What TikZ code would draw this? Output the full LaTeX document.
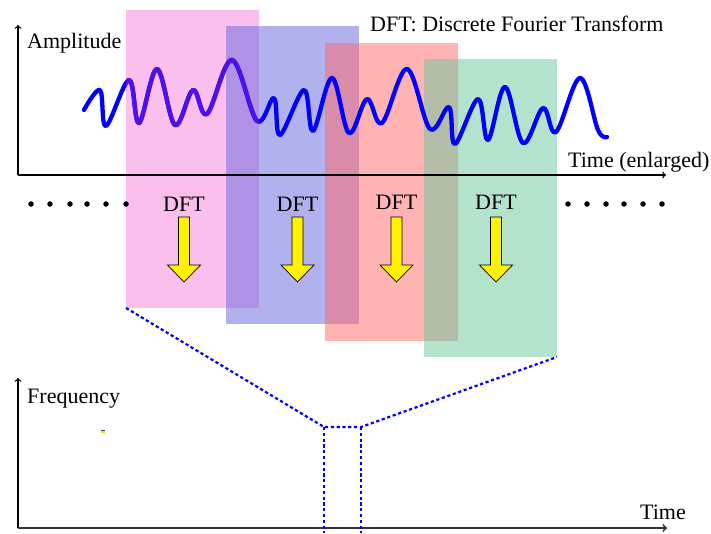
\documentclass[tikz,border=0pt]{standalone}
\usepackage{fontspec}
\setmainfont{Liberation Serif}
\begin{document}
\begin{tikzpicture}[x=1pt,y=-1pt,
  lbl/.style={inner sep=0pt,font=\fontsize{22}{25}\selectfont},
  axis/.style={line width=1.4pt,-to},
  win/.style={fill opacity=0.5},
  dftarrow/.style={fill=yellow,draw=black,line width=0.7pt},
  zoomline/.style={blue,line width=2.2pt,dash pattern=on 3.2pt off 2.6pt},
  dotmark/.style={circle,fill=black,inner sep=0pt,minimum size=5.5pt},
  wave/.style={line width=4.3pt,line cap=round,line join=round}]
\useasboundingbox (0,0) rectangle (711,533);
\definecolor{pinkc}{RGB}{248,128,220}
\definecolor{bluec}{RGB}{100,100,220}
\definecolor{redc}{RGB}{255,104,104}
\definecolor{greenc}{RGB}{105,200,155}
\definecolor{wavepurple}{RGB}{80,16,235}
% windows
\fill[pinkc,win] (126,10) rectangle (259,308);
\fill[bluec,win] (226,26) rectangle (359,324);
\fill[redc,win] (325,43) rectangle (458,341);
\fill[greenc,win] (424,59) rectangle (557,357);
\coordinate (pinkBL) at (126,308);
\coordinate (greenBR) at (557,357);
% wave
\def\wavepath{plot[smooth,tension=0.6] coordinates{(84,110) (100,90) (106,126) (129,80) (139,123) (157,69) (175,125) (193,90) (207,114) (232,60) (257,121) (274,98) (280,135) (304,90) (313,131) (332,78) (349,133) (367,99) (382,123) (407,69) (430,129) (449,107) (455,144) (478,99) (488,140) (505,87) (523,143) (543,108) (556,132) (580,78) (598,130) (607,137)}}
\draw[wave,blue] \wavepath;
\begin{scope}
\clip (126,10) rectangle (259,308);
\draw[wave,wavepurple] \wavepath;
\end{scope}
% top axes
\coordinate (o1) at (18,175);
\coordinate (y1) at (18,25);
\coordinate (x1) at (666,175);
\draw[axis] (o1) -- (y1);
\draw[axis] (o1) -- (x1);
\node[lbl,anchor=base west] (amp) at (27,48) {Amplitude};
\node[lbl,anchor=base west] (title) at (370,31) {DFT: Discrete Fourier Transform};
\node[lbl,anchor=base west] (tenl) at (568,167) {Time (enlarged)};
% DFT labels and arrows
\foreach \cx/\by/\n in {184/211/a,297.5/211/b,396.5/209/c,496/209/d}{
  \node[lbl,anchor=base] (dft\n) at (\cx,\by) {DFT};
  \draw[dftarrow] (\cx-5.5,217) -- (\cx+5.5,217) -- (\cx+5.5,265) -- (\cx+16.5,265)
     -- (\cx,282) -- (\cx-16.5,265) -- (\cx-5.5,265) -- cycle;
}
% dots
\foreach \dx [count=\i] in {31,50,70,87,106,126}{\node[dotmark] (dl\i) at (\dx,204) {};}
\foreach \dx [count=\i] in {568,587,606,624,643,662}{\node[dotmark] (dr\i) at (\dx,204) {};}
% bottom axes
\coordinate (o2) at (18,528);
\coordinate (y2) at (18,378);
\coordinate (x2) at (667,528);
\draw[axis] (o2) -- (y2);
\draw[axis,draw=black!80,line width=1.8pt] (o2) -- (x2);
\node[lbl,anchor=base west] (freq) at (27,403) {Frequency};
\node[lbl,anchor=base west] (time) at (640,519) {Time};
% small mark
\fill[yellow!90!green] (101,430) rectangle (105,433);
\draw[black!70,line width=0.6pt] (101,430.3) -- (105,430.3);
% zoom lines
\coordinate (zl) at (324,427);
\coordinate (zr) at (361,427);
\coordinate (bl) at (324,533);
\coordinate (br) at (361,533);
\draw[zoomline] (pinkBL) -- (zl) -- (zr) -- (greenBR);
\draw[zoomline] (zl) -- (bl);
\draw[zoomline] (zr) -- (br);
\end{tikzpicture}
\end{document}
